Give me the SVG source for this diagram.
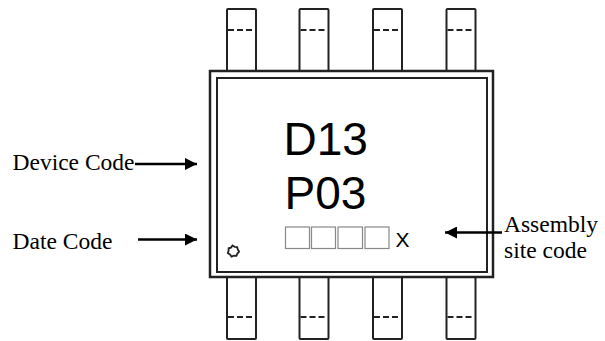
<svg xmlns="http://www.w3.org/2000/svg" width="605" height="341" viewBox="0 0 605 341">
<defs>
<style>
.pin{fill:#fff;stroke:#222;stroke-width:2}
.dash{stroke:#222;stroke-width:2;stroke-dasharray:6,3;fill:none}
.body{fill:#fff;stroke:#222;stroke-width:2.5}
.inner{fill:#fff;stroke:#222;stroke-width:2}
.box{fill:#fff;stroke:#888;stroke-width:1.2}
.big{font-family:"Liberation Sans",Arial,sans-serif;fill:#000}
.lbl{font-family:"Liberation Serif","Times New Roman",serif;font-size:23.5px;fill:#000}
.conn{stroke:#000;stroke-width:2.5;fill:none}
</style>
<marker id="ah" viewBox="0 0 10 10" refX="10" refY="5" markerWidth="16" markerHeight="12" markerUnits="userSpaceOnUse" orient="auto">
<path d="M0,0 L10,5 L0,10 Z" fill="#000"/>
</marker>
</defs>
<g id="pins-top">
<rect class="pin" x="227" y="9" width="29" height="62" rx="1"/>
<rect class="pin" x="299.5" y="9" width="29" height="62" rx="1"/>
<rect class="pin" x="373" y="9" width="29" height="62" rx="1"/>
<rect class="pin" x="446.5" y="9" width="29" height="62" rx="1"/>
<line class="dash" x1="228" y1="30" x2="255" y2="30"/>
<line class="dash" x1="300.5" y1="30" x2="327.5" y2="30"/>
<line class="dash" x1="374" y1="30" x2="401" y2="30"/>
<line class="dash" x1="447.5" y1="30" x2="474.5" y2="30"/>
</g>
<g id="pins-bottom">
<rect class="pin" x="227" y="277" width="29" height="62" rx="1"/>
<rect class="pin" x="299.5" y="277" width="29" height="62" rx="1"/>
<rect class="pin" x="373" y="277" width="29" height="62" rx="1"/>
<rect class="pin" x="446.5" y="277" width="29" height="62" rx="1"/>
<line class="dash" x1="228" y1="317" x2="255" y2="317"/>
<line class="dash" x1="300.5" y1="317" x2="327.5" y2="317"/>
<line class="dash" x1="374" y1="317" x2="401" y2="317"/>
<line class="dash" x1="447.5" y1="317" x2="474.5" y2="317"/>
</g>
<g id="chip">
<rect class="body" x="210" y="71" width="283" height="206"/>
<rect class="inner" x="217" y="78" width="270" height="194"/>
<text class="big" x="283.5" y="155.3" font-size="46">D13</text>
<text class="big" x="284.5" y="208.7" font-size="46">P03</text>
<rect class="box" x="285.5" y="227" width="24" height="21.5"/>
<rect class="box" x="311.5" y="227" width="24" height="21.5"/>
<rect class="box" x="338" y="227" width="24.5" height="21.5"/>
<rect class="box" x="365" y="227" width="24" height="21.5"/>
<text class="big" x="395.5" y="246.5" font-size="21">X</text>
<path d="M232.5,245.5 l2.2,1.3 2.5,0.2 0.6,2.5 1.3,2.2 -1.7,1.9 -1,2.3 -2.5,-0.3 -2.4,1 -1.5,-2.1 -2.2,-1.3 0.8,-2.4 0,-2.5 2.4,-0.7 z" fill="none" stroke="#222" stroke-width="1.8"/>
</g>
<g id="label-device">
<text class="lbl" x="12.5" y="170">Device Code</text>
</g>
<g id="label-date">
<text class="lbl" x="12.5" y="248.5">Date Code</text>
</g>
<g id="label-assembly">
<text class="lbl" x="504" y="231.5" font-size="23">Assembly</text>
<text class="lbl" x="504" y="257.5" font-size="23">site code</text>
</g>
<g id="connectors">
<line class="conn" x1="135" y1="164" x2="197" y2="164" marker-end="url(#ah)"/>
<line class="conn" x1="138" y1="239.5" x2="197" y2="239.5" marker-end="url(#ah)"/>
<line class="conn" x1="502" y1="232.5" x2="445" y2="232.5" marker-end="url(#ah)"/>
</g>
</svg>
